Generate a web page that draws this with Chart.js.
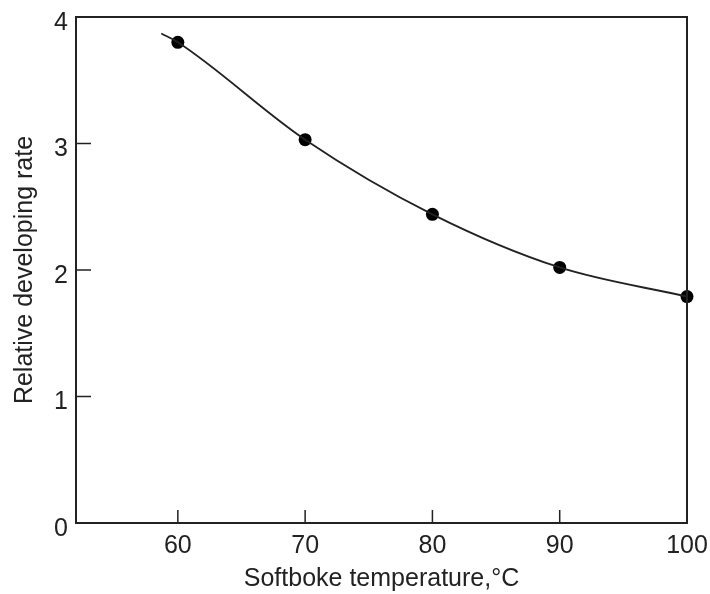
<!DOCTYPE html>
<html>
<head>
<meta charset="utf-8">
<script src="https://cdn.jsdelivr.net/npm/chart.js@4.4.1/dist/chart.umd.min.js"></script>
<style>
html,body{margin:0;padding:0;background:#fff;}
#wrap{width:710px;height:594px;position:relative;}
</style>
</head>
<body>
<div id="wrap"><canvas id="c" width="710" height="594"></canvas></div>
<script>
// Data
const temperatures = [60, 70, 80, 90, 100];
const developingRates = [3.80, 3.03, 2.44, 2.02, 1.79];
const curveStart = {x: 58.7, y: 3.87};
const xTickValues = [60, 70, 80, 90, 100];
const yTickValues = [0, 1, 2, 3, 4];
const xTitle = 'Softboke temperature,°C';
const yTitle = 'Relative developing rate';

const FONT = "'Liberation Sans', Arial, sans-serif";
const pts = temperatures.map((t, i) => ({x: t, y: developingRates[i]}));
const curve = [curveStart].concat(pts);

// Box frame + inward tick marks drawn from the library scales
const frame = {
  id: 'frame',
  afterDraw(chart) {
    const {ctx, chartArea: a, scales: {x, y}} = chart;
    ctx.save();
    ctx.strokeStyle = '#222';
    ctx.lineWidth = 2;
    ctx.strokeRect(a.left, a.top, a.right - a.left, a.bottom - a.top);
    ctx.lineWidth = 1.5;
    ctx.beginPath();
    xTickValues.forEach(v => {
      if (v >= x.max) return;
      const px = x.getPixelForValue(v);
      ctx.moveTo(px, a.bottom); ctx.lineTo(px, a.bottom - 13);
    });
    yTickValues.forEach(v => {
      if (v <= y.min || v >= y.max) return;
      const py = y.getPixelForValue(v);
      ctx.moveTo(a.left, py); ctx.lineTo(a.left + 15, py);
    });
    ctx.stroke();
    ctx.restore();
  }
};

new Chart(document.getElementById('c'), {
  type: 'scatter',
  data: {
    datasets: [
      {
        data: curve,
        showLine: true,
        borderColor: '#222',
        borderWidth: 1.8,
        pointRadius: 0,
        cubicInterpolationMode: 'monotone',
        fill: false,
        clip: false
      },
      {
        data: pts,
        showLine: false,
        pointRadius: 6.5,
        pointBackgroundColor: '#000',
        pointBorderColor: '#000',
        pointBorderWidth: 0,
        clip: false
      }
    ]
  },
  options: {
    responsive: false,
    animation: false,
    layout: {padding: {top: 17, right: 23, left: 0, bottom: 0}},
    plugins: {legend: {display: false}, tooltip: {enabled: false}},
    scales: {
      x: {
        type: 'linear',
        min: 52, max: 100,
        afterBuildTicks(s) { s.ticks = xTickValues.map(v => ({value: v})); },
        afterFit(s) { s.height = 71; s.paddingRight = 0; s.paddingLeft = 0; },
        grid: {display: false, drawTicks: false},
        border: {display: false},
        ticks: {color: '#222', font: {family: FONT, size: 25}, padding: 8, maxRotation: 0, autoSkip: false},
        title: {display: true, text: xTitle, color: '#222', font: {family: FONT, size: 25}, padding: {top: 2, bottom: 0}}
      },
      y: {
        type: 'linear',
        min: 0, max: 4,
        afterBuildTicks(s) { s.ticks = yTickValues.map(v => ({value: v})); },
        afterFit(s) { s.width = 76; s.paddingTop = 0; s.paddingBottom = 0; },
        grid: {display: false, drawTicks: false},
        border: {display: false},
        ticks: {color: '#222', font: {family: FONT, size: 25}, padding: 8, labelOffset: 6},
        title: {display: true, text: yTitle, color: '#222', font: {family: FONT, size: 25}, padding: {top: 10, bottom: 0}}
      }
    }
  },
  plugins: [frame]
});
</script>
</body>
</html>
